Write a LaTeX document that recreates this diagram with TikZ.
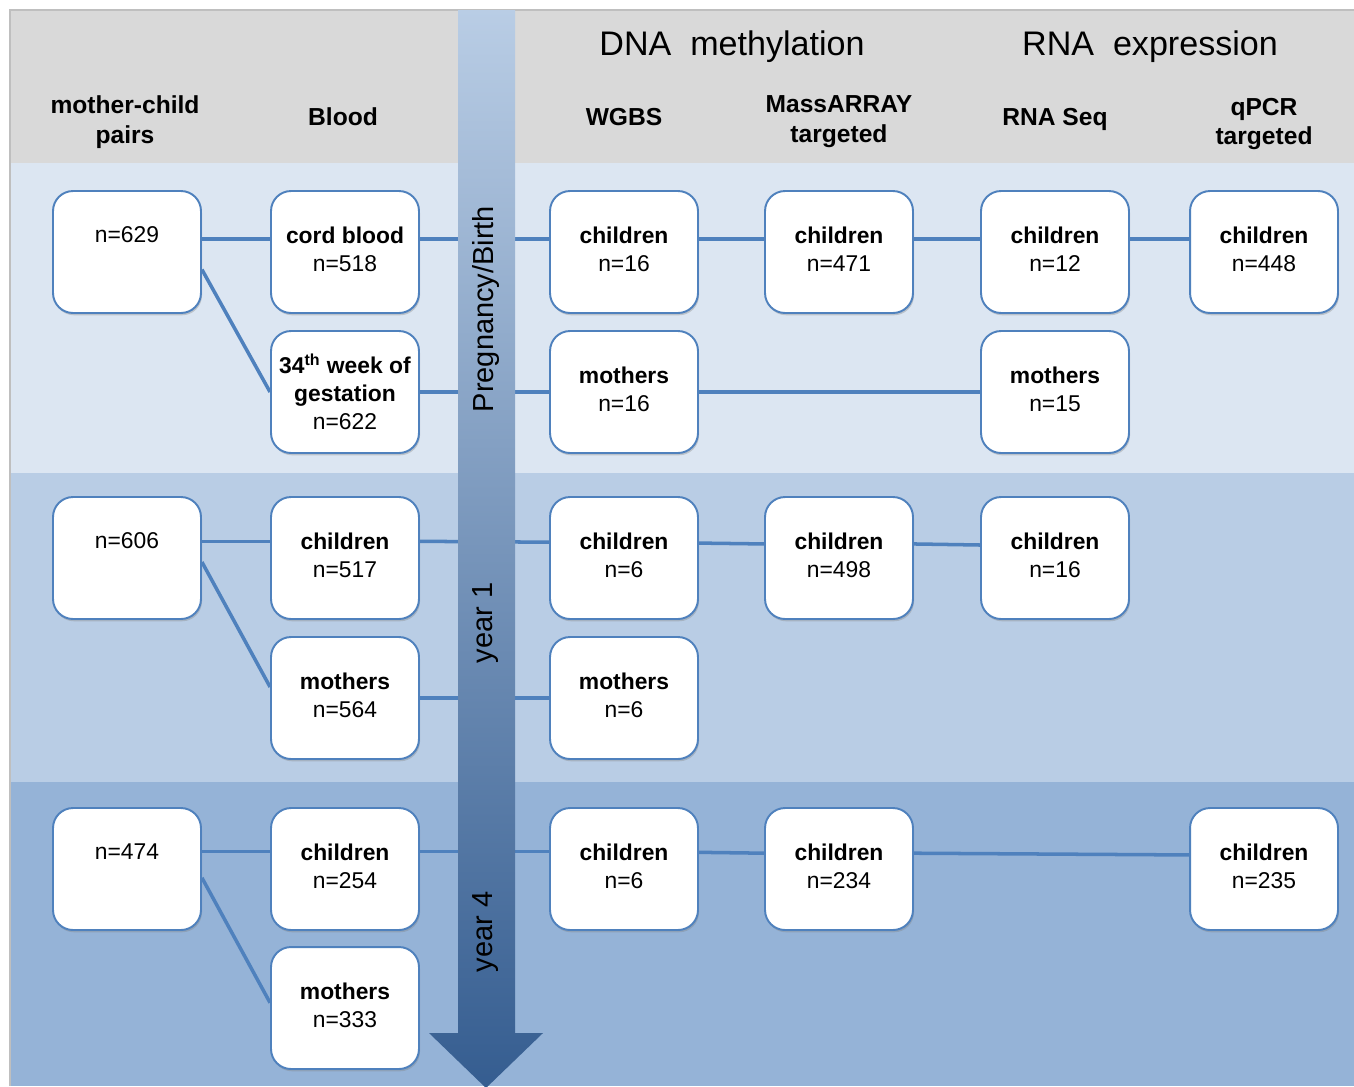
\documentclass[tikz,border=0pt]{standalone}
\usepackage{fontspec}
\setmainfont{Liberation Sans}
\usetikzlibrary{shadows}

\definecolor{hdrgray}{HTML}{D9D9D9}
\definecolor{bandA}{HTML}{DCE6F2}
\definecolor{bandB}{HTML}{B9CDE5}
\definecolor{bandC}{HTML}{95B3D7}
\definecolor{linkblue}{HTML}{4F81BD}
\definecolor{arrtop}{HTML}{B9CDE5}
\definecolor{arrbot}{HTML}{355D90}

\tikzset{
  sample/.style={draw=linkblue, line width=1.1pt, fill=white, rounded corners=0.4cm,
    minimum width=2.96cm, minimum height=2.44cm, align=center, text depth=3.4pt,
    font=\fontsize{13}{16}\selectfont,
    drop shadow={shadow xshift=0.6pt, shadow yshift=-1.3pt, opacity=0.35}},
  link/.style={linkblue, line width=2pt},
  colhead/.style={align=center, font=\fontsize{14}{17}\selectfont\bfseries},
  grouphead/.style={font=\fontsize{19.4}{23}\selectfont},
  period/.style={rotate=90, font=\fontsize{16.5}{20}\selectfont}
}

\begin{document}
\begin{tikzpicture}[x=0.02cm,y=-0.02cm]
\useasboundingbox (0,0) rectangle (1354,1086);
\fill[hdrgray] (10,10) rectangle (1354,163);
\fill[bandA] (10,163) rectangle (1354,473);
\fill[bandB] (10,473) rectangle (1354,782);
\fill[bandC] (10,782) rectangle (1354,1086);
\draw[black!25, line width=0.6pt] (10,1086) -- (10,10) -- (1354,10);

\node[grouphead] (hdna) at (732,47) {DNA\ \ methylation};
\node[grouphead] (hrna) at (1150,47) {RNA\ \ expression};
\node[colhead] (hpairs) at (125,122) {mother-child\\pairs};
\node[colhead] (hblood) at (343,117) {Blood};
\node[colhead] (hwgbs) at (624,117) {WGBS};
\node[colhead] (hmass) at (839,122) {MassARRAY\\targeted};
\node[colhead] (hrnaseq) at (1055,119) {RNA Seq};
\node[colhead] (hqpcr) at (1264,124) {qPCR\\targeted};

\node[sample] (pairs1) at (127,252) {n=629\\~};
\node[sample] (cord) at (345,252) {\textbf{cord blood}\\n=518};
\node[sample, text depth=0pt] (gest) at (345,392) {\textbf{34\textsuperscript{th} week of}\\\textbf{gestation}\\n=622};
\node[sample] (wgbsC1) at (624,252) {\textbf{children}\\n=16};
\node[sample] (massC1) at (839,252) {\textbf{children}\\n=471};
\node[sample] (rnaC1) at (1055,252) {\textbf{children}\\n=12};
\node[sample] (qpcrC1) at (1264,252) {\textbf{children}\\n=448};
\node[sample] (wgbsM1) at (624,392) {\textbf{mothers}\\n=16};
\node[sample] (rnaM1) at (1055,392) {\textbf{mothers}\\n=15};

\node[sample] (pairs2) at (127,558) {n=606\\~};
\node[sample] (bloodC2) at (345,558) {\textbf{children}\\n=517};
\node[sample] (bloodM2) at (345,698) {\textbf{mothers}\\n=564};
\node[sample] (wgbsC2) at (624,558) {\textbf{children}\\n=6};
\node[sample] (massC2) at (839,558) {\textbf{children}\\n=498};
\node[sample] (rnaC2) at (1055,558) {\textbf{children}\\n=16};
\node[sample] (wgbsM2) at (624,698) {\textbf{mothers}\\n=6};

\node[sample] (pairs3) at (127,869) {n=474\\~};
\node[sample] (bloodC3) at (345,869) {\textbf{children}\\n=254};
\node[sample] (bloodM3) at (345,1008) {\textbf{mothers}\\n=333};
\node[sample] (wgbsC3) at (624,869) {\textbf{children}\\n=6};
\node[sample] (massC3) at (839,869) {\textbf{children}\\n=234};
\node[sample] (qpcrC3) at (1264,869) {\textbf{children}\\n=235};

\draw[link] ([yshift=7.4pt]pairs1.east) -- ([yshift=7.4pt]cord.west);
\draw[link] ([yshift=7.4pt]cord.east) -- ([yshift=7.4pt]wgbsC1.west);
\draw[link] ([yshift=7.4pt]wgbsC1.east) -- ([yshift=7.4pt]massC1.west);
\draw[link] ([yshift=7.4pt]massC1.east) -- ([yshift=7.4pt]rnaC1.west);
\draw[link] ([yshift=7.4pt]rnaC1.east) -- ([yshift=7.4pt]qpcrC1.west);
\draw[link] ([yshift=-10pt]pairs1.east) -- (gest.west);
\draw[link] (gest.east) -- (wgbsM1.west);
\draw[link] (wgbsM1.east) -- (rnaM1.west);

\draw[link] ([yshift=9.5pt]pairs2.east) -- ([yshift=9.5pt]bloodC2.west);
\draw[link] ([yshift=9.5pt]bloodC2.east) -- ([yshift=9pt]wgbsC2.west);
\draw[link] ([yshift=8.5pt]wgbsC2.east) -- ([yshift=8pt]massC2.west);
\draw[link] ([yshift=8pt]massC2.east) -- ([yshift=7.4pt]rnaC2.west);
\draw[link] ([yshift=-2.3pt]pairs2.east) -- ([yshift=6.3pt]bloodM2.west);
\draw[link] (bloodM2.east) -- (wgbsM2.west);

\draw[link] ([yshift=10pt]pairs3.east) -- ([yshift=10pt]bloodC3.west);
\draw[link] ([yshift=10pt]bloodC3.east) -- ([yshift=10pt]wgbsC3.west);
\draw[link] ([yshift=9.5pt]wgbsC3.east) -- ([yshift=9pt]massC3.west);
\draw[link] ([yshift=9pt]massC3.east) -- ([yshift=8pt]qpcrC3.west);
\draw[link] ([yshift=-5pt]pairs3.east) -- ([yshift=3pt]bloodM3.west);

\shade[top color=arrtop, bottom color=arrbot] (458,10) -- (515,10) -- (515,1033) -- (543,1033)
  -- (486,1088) -- (429,1033) -- (458,1033) -- cycle;
\node[period] (tbirth) at (486,309) {Pregnancy/Birth};
\node[period] (tyear1) at (486,623) {year 1};
\node[period] (tyear4) at (486,932) {year 4};
\end{tikzpicture}
\end{document}
